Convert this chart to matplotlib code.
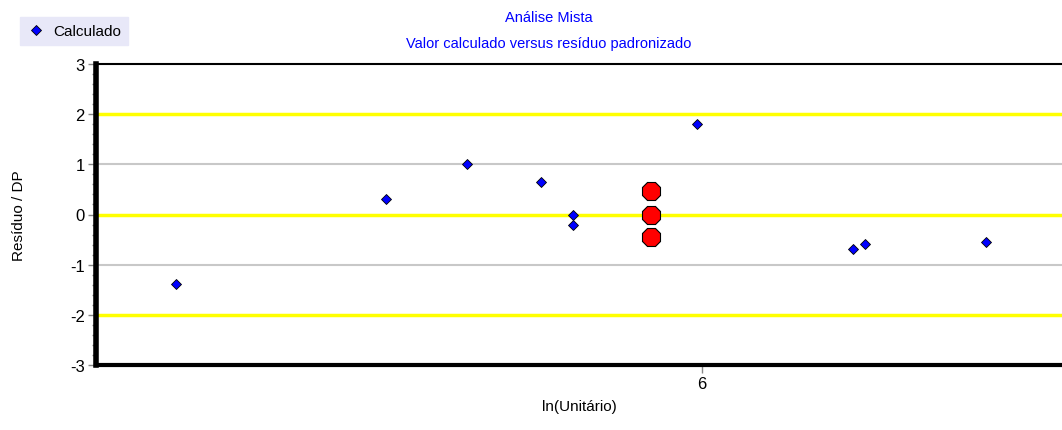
import matplotlib
matplotlib.use("Agg")
import matplotlib.pyplot as plt
import numpy as np
from matplotlib.ticker import MultipleLocator

plt.rcParams["font.family"] = ["Liberation Sans", "DejaVu Sans"]
plt.rcParams["axes.unicode_minus"] = False

# valores
calc_x = [5.175, 5.505, 5.632, 5.748, 5.798, 5.798, 5.992, 6.237, 6.256, 6.445]
calc_y = [-1.39, 0.30, 1.00, 0.65, 0.00, -0.20, 1.80, -0.68, -0.58, -0.55]
sel_x = [5.920, 5.920, 5.920]
sel_y = [0.47, 0.00, -0.45]
yellow_lines = [-2, 0, 2]
gray_lines = [-1, 1]
x_ticks = [6]

fig = plt.figure(figsize=(10.62, 4.31), dpi=100)
ax = fig.add_axes([96 / 1062, 65 / 431, 1 - 96 / 1062, 301 / 431])

for y in gray_lines:
    ax.axhline(y, color="#c8c8c8", lw=1.5, zorder=1)
for y in yellow_lines:
    ax.axhline(y, color="#ffff00", lw=2.5, zorder=1)

ax.plot(calc_x, calc_y, linestyle="none", marker="D", markersize=5,
        markerfacecolor="#0000ff", markeredgecolor="black", markeredgewidth=0.6,
        label="Calculado", zorder=3)
ax.plot(sel_x, sel_y, linestyle="none", marker="8", markersize=14,
        markerfacecolor="#ff0000", markeredgecolor="black", markeredgewidth=0.8,
        zorder=4)

ax.set_xlim(5.05, 6.5644)
ax.set_ylim(-3, 3)
ax.set_xticks(x_ticks)
ax.set_yticks(np.arange(-3, 4, 1))
ax.yaxis.set_minor_locator(MultipleLocator(0.2))

ax.spines["right"].set_visible(False)
ax.spines["left"].set_linewidth(4)
ax.spines["bottom"].set_linewidth(3)
ax.spines["top"].set_linewidth(1.5)
ax.tick_params(axis="both", which="major", length=6, width=1, color="#888888",
               labelsize=12, pad=2)
ax.tick_params(axis="y", which="minor", length=3, width=1, color="#888888")

ax.set_xlabel("ln(Unitário)", fontsize=11, labelpad=6)
ax.set_ylabel("Resíduo / DP", fontsize=11)
ax.yaxis.set_label_coords(-0.072, 0.5)

fig.text(549 / 1062, 1 - 18 / 431, "Análise Mista", color="#0000ff",
         fontsize=10.5, ha="center", va="center")
fig.text(549 / 1062, 1 - 44 / 431, "Valor calculado versus resíduo padronizado",
         color="#0000ff", fontsize=10.5, ha="center", va="center")

leg = fig.legend(loc="upper left", bbox_to_anchor=(20 / 1062, 1 - 18 / 431),
                 frameon=True, fontsize=11, handletextpad=0.5, handlelength=1.2,
                 borderpad=0.45, fancybox=False, borderaxespad=0)
leg.get_frame().set_facecolor("#e8e8f8")
leg.get_frame().set_edgecolor("#e8e8f8")
leg.get_frame().set_alpha(1)

fig.savefig("out.png", dpi=100)
